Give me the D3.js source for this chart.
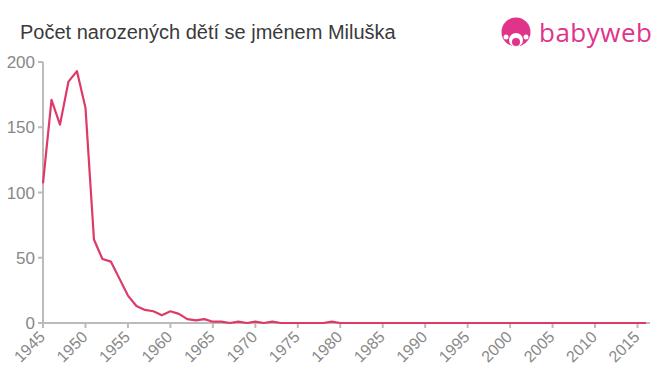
<!DOCTYPE html>
<html><head><meta charset="utf-8">
<script src="https://cdn.jsdelivr.net/npm/d3@7"></script>
<style>body{margin:0;background:#fff;}svg{display:block;font-family:"Liberation Sans",Arial,sans-serif;}</style>
</head><body>
<svg id="c" width="660" height="375"></svg>
<script>
const title = "Počet narozených dětí se jménem Miluška";
const years = d3.range(1945, 2017);
const counts = [107,171,152,185,193,165,64,49,47,34,21,13,10,9,6,9,7,3,2,3,
  1,1,0,1,0,1,0,1,0,0,0,0,0,0,1,0,0,0,0,0,
  0,0,0,0,0,0,0,0,0,0,0,0,0,0,0,0,0,0,0,0,
  0,0,0,0,0,0,0,0,0,0,0,0];
const xTicks = d3.range(1945, 2016, 5);
const yTicks = [0,50,100,150,200];

const svg = d3.select("#c");
const x = d3.scaleLinear().domain([1945, 2016]).range([43, 646]);
const y = d3.scaleLinear().domain([0, 200]).range([323, 62]);

svg.append("text").attr("x", 20).attr("y", 39).attr("font-size", 20).attr("fill", "#3a3a3a").text(title);

// axes
const axisColor = "#bbb", labelColor = "#888";
svg.append("line").attr("x1", x(1945)).attr("x2", 650).attr("y1", y(0)).attr("y2", y(0)).attr("stroke", axisColor).attr("stroke-width", 2);
svg.append("line").attr("x1", x(1945)).attr("x2", x(1945)).attr("y1", y(0)).attr("y2", y(200)).attr("stroke", axisColor).attr("stroke-width", 2);
const yg = svg.append("g");
yTicks.forEach(t => {
  yg.append("line").attr("x1", x(1945) - 5).attr("x2", x(1945)).attr("y1", y(t)).attr("y2", y(t)).attr("stroke", axisColor).attr("stroke-width", 2);
  yg.append("text").attr("x", 35).attr("y", y(t) + 6).attr("text-anchor", "end").attr("font-size", 17).attr("fill", labelColor).text(t);
});
const xg = svg.append("g");
xTicks.forEach(t => {
  xg.append("line").attr("x1", x(t)).attr("x2", x(t)).attr("y1", y(0)).attr("y2", y(0) + 5).attr("stroke", axisColor).attr("stroke-width", 2);
  xg.append("text").attr("transform", `translate(${x(t)+3},${y(0)+15}) rotate(-45)`).attr("text-anchor", "end").attr("font-size", 16).attr("fill", labelColor).text(t);
});

// line
const line = d3.line().x((d, i) => x(years[i])).y(d => y(d));
svg.append("path").datum(counts).attr("d", line).attr("fill", "none").attr("stroke", "#dd3a68").attr("stroke-width", 2.2).attr("stroke-linejoin", "round");

// logo
const pink = "#e0338a";
const lg = svg.append("g");
lg.append("circle").attr("cx", 516).attr("cy", 32).attr("r", 14.5).attr("fill", pink);
lg.append("circle").attr("cx", 516).attr("cy", 40).attr("r", 7).attr("fill", "#fff");
lg.append("circle").attr("cx", 516).attr("cy", 42).attr("r", 4).attr("fill", pink);
lg.append("circle").attr("cx", 506).attr("cy", 37).attr("r", 2.5).attr("fill", "#fff");
lg.append("circle").attr("cx", 526).attr("cy", 37).attr("r", 2.5).attr("fill", "#fff");
lg.append("text").attr("x", 539).attr("y", 42).attr("font-size", 26).attr("fill", pink).attr("font-family", "'Open Sans',sans-serif").attr("textLength", 113).text("babyweb");
</script>
</body></html>
